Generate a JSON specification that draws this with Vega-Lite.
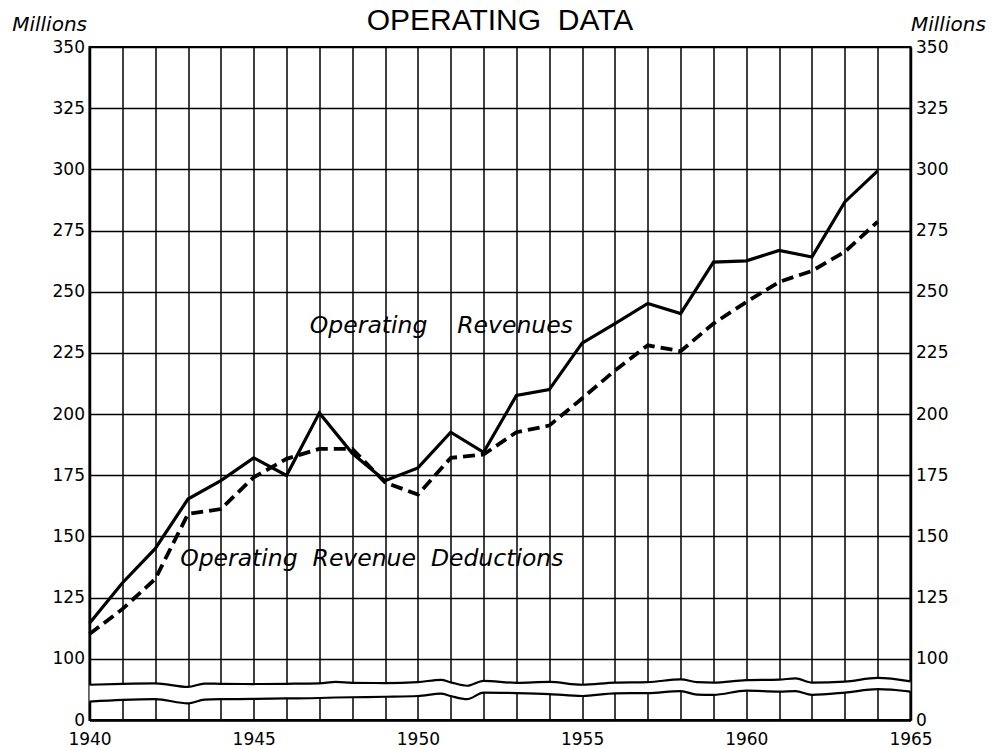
{
  "$schema": "https://vega.github.io/schema/vega-lite/v6.json",
  "width": 821,
  "height": 673,
  "autosize": {"type": "none"},
  "padding": {"left": 89.5, "top": 47, "right": 87.5, "bottom": 28},
  "background": "white",
  "title": {"text": "OPERATING\u00a0\u00a0DATA", "font": "Liberation Sans", "fontSize": 30, "fontWeight": "normal", "color": "black", "anchor": "middle", "offset": -22},
  "config": {
    "view": {"stroke": "black", "strokeWidth": 2},
    "axis": {"domainColor": "black", "gridColor": "black", "gridOpacity": 1, "labelColor": "black", "labelFont": "DejaVu Sans", "labelFontSize": 17, "ticks": false}
  },
  "datasets": {
    "series": [
      {"year": 1940, "value": 114.5, "series": "Operating Revenues"},
      {"year": 1941, "value": 131, "series": "Operating Revenues"},
      {"year": 1942, "value": 145, "series": "Operating Revenues"},
      {"year": 1943, "value": 165.3, "series": "Operating Revenues"},
      {"year": 1944, "value": 172.8, "series": "Operating Revenues"},
      {"year": 1945, "value": 182.1, "series": "Operating Revenues"},
      {"year": 1946, "value": 174.9, "series": "Operating Revenues"},
      {"year": 1947, "value": 200.5, "series": "Operating Revenues"},
      {"year": 1948, "value": 184, "series": "Operating Revenues"},
      {"year": 1949, "value": 172.8, "series": "Operating Revenues"},
      {"year": 1950, "value": 178, "series": "Operating Revenues"},
      {"year": 1951, "value": 192.6, "series": "Operating Revenues"},
      {"year": 1952, "value": 184.4, "series": "Operating Revenues"},
      {"year": 1953, "value": 207.6, "series": "Operating Revenues"},
      {"year": 1954, "value": 210, "series": "Operating Revenues"},
      {"year": 1955, "value": 229, "series": "Operating Revenues"},
      {"year": 1956, "value": 237, "series": "Operating Revenues"},
      {"year": 1957, "value": 245.2, "series": "Operating Revenues"},
      {"year": 1958, "value": 241.1, "series": "Operating Revenues"},
      {"year": 1959, "value": 262.1, "series": "Operating Revenues"},
      {"year": 1960, "value": 262.6, "series": "Operating Revenues"},
      {"year": 1961, "value": 266.9, "series": "Operating Revenues"},
      {"year": 1962, "value": 264.2, "series": "Operating Revenues"},
      {"year": 1963, "value": 286.7, "series": "Operating Revenues"},
      {"year": 1964, "value": 299.4, "series": "Operating Revenues"},
      {"year": 1940, "value": 110.1, "series": "Operating Revenue Deductions"},
      {"year": 1941, "value": 120.3, "series": "Operating Revenue Deductions"},
      {"year": 1942, "value": 132.6, "series": "Operating Revenue Deductions"},
      {"year": 1943, "value": 159.2, "series": "Operating Revenue Deductions"},
      {"year": 1944, "value": 161.2, "series": "Operating Revenue Deductions"},
      {"year": 1945, "value": 174.2, "series": "Operating Revenue Deductions"},
      {"year": 1946, "value": 181.7, "series": "Operating Revenue Deductions"},
      {"year": 1947, "value": 185.8, "series": "Operating Revenue Deductions"},
      {"year": 1948, "value": 185.8, "series": "Operating Revenue Deductions"},
      {"year": 1949, "value": 172.1, "series": "Operating Revenue Deductions"},
      {"year": 1950, "value": 167.1, "series": "Operating Revenue Deductions"},
      {"year": 1951, "value": 182.1, "series": "Operating Revenue Deductions"},
      {"year": 1952, "value": 183.5, "series": "Operating Revenue Deductions"},
      {"year": 1953, "value": 192.6, "series": "Operating Revenue Deductions"},
      {"year": 1954, "value": 195.3, "series": "Operating Revenue Deductions"},
      {"year": 1955, "value": 206.4, "series": "Operating Revenue Deductions"},
      {"year": 1956, "value": 217.8, "series": "Operating Revenue Deductions"},
      {"year": 1957, "value": 228.1, "series": "Operating Revenue Deductions"},
      {"year": 1958, "value": 225.7, "series": "Operating Revenue Deductions"},
      {"year": 1959, "value": 237, "series": "Operating Revenue Deductions"},
      {"year": 1960, "value": 245.8, "series": "Operating Revenue Deductions"},
      {"year": 1961, "value": 254, "series": "Operating Revenue Deductions"},
      {"year": 1962, "value": 258.5, "series": "Operating Revenue Deductions"},
      {"year": 1963, "value": 266.3, "series": "Operating Revenue Deductions"},
      {"year": 1964, "value": 278.6, "series": "Operating Revenue Deductions"}
    ],
    "breakband": [
      {"year": 1940, "upper": 89.4, "lower": 82.5},
      {"year": 1941, "upper": 89.8, "lower": 83.2},
      {"year": 1942, "upper": 90.0, "lower": 83.5},
      {"year": 1943, "upper": 88.5, "lower": 81.8},
      {"year": 1943.5, "upper": 89.9, "lower": 83.3},
      {"year": 1944, "upper": 89.8, "lower": 83.5},
      {"year": 1945, "upper": 89.7, "lower": 83.6},
      {"year": 1946, "upper": 89.8, "lower": 83.8},
      {"year": 1947, "upper": 90.0, "lower": 84.0},
      {"year": 1947.5, "upper": 90.6, "lower": 84.2},
      {"year": 1948, "upper": 90.2, "lower": 84.3},
      {"year": 1949, "upper": 90.1, "lower": 84.5},
      {"year": 1950, "upper": 90.5, "lower": 84.8},
      {"year": 1950.7, "upper": 91.4, "lower": 85.8},
      {"year": 1951, "upper": 90.4, "lower": 84.8},
      {"year": 1951.5, "upper": 89.0, "lower": 83.5},
      {"year": 1952, "upper": 91.0, "lower": 86.2},
      {"year": 1953, "upper": 90.2, "lower": 86.0},
      {"year": 1954, "upper": 90.6, "lower": 85.6},
      {"year": 1955, "upper": 89.4, "lower": 84.8},
      {"year": 1956, "upper": 90.3, "lower": 85.9},
      {"year": 1957, "upper": 90.5, "lower": 86.0},
      {"year": 1958, "upper": 91.6, "lower": 86.8},
      {"year": 1958.5, "upper": 90.5, "lower": 85.4},
      {"year": 1959, "upper": 90.3, "lower": 85.3},
      {"year": 1960, "upper": 91.3, "lower": 87.0},
      {"year": 1961, "upper": 91.5, "lower": 86.6},
      {"year": 1961.5, "upper": 92.0, "lower": 86.8},
      {"year": 1962, "upper": 90.3, "lower": 85.3},
      {"year": 1963, "upper": 90.7, "lower": 86.2},
      {"year": 1964, "upper": 92.2, "lower": 87.6},
      {"year": 1965, "upper": 90.8, "lower": 86.6}
    ],
    "labels": [
      {"year": 1946.71, "value": 233.0, "text": "Operating\u00a0\u00a0\u00a0\u00a0Revenues"},
      {"year": 1942.76, "value": 138.0, "text": "Operating\u00a0\u00a0Revenue\u00a0\u00a0Deductions"}
    ]
  },
  "encoding": {
    "x": {"field": "year", "type": "quantitative", "scale": {"domain": [1940, 1965], "nice": false, "zero": false},
      "axis": {"values": [1940,1941,1942,1943,1944,1945,1946,1947,1948,1949,1950,1951,1952,1953,1954,1955,1956,1957,1958,1959,1960,1961,1962,1963,1964,1965],
        "tickCount": 40, "labelExpr": "datum.value % 5 == 0 ? format(datum.value, 'd') : ''", "labelOverlap": false, "title": null, "grid": true, "gridWidth": 1.5, "domainWidth": 2.5, "labelPadding": 11, "labelFlush": false}}
  },
  "layer": [
    {
      "data": {"name": "breakband"},
      "mark": {"type": "area", "color": "white", "interpolate": "monotone", "opacity": 1},
      "encoding": {
        "y": {"field": "upper", "type": "quantitative", "scale": {"domain": [75, 350], "nice": false, "zero": false},
          "axis": {"values": [75,100,125,150,175,200,225,250,275,300,325,350], "tickCount": 30, "labelExpr": "datum.value == 75 ? '0' : format(datum.value, 'd')", "labelOverlap": false,
            "title": "Millions", "titleAngle": 0, "titleAlign": "right", "titleBaseline": "alphabetic", "titleX": -3, "titleY": -17,
            "titleFont": "DejaVu Sans", "titleFontStyle": "italic", "titleFontWeight": "normal", "titleFontSize": 20, "titleColor": "black",
            "grid": true, "gridWidth": 1.5, "domainWidth": 2.5, "labelPadding": 5}},
        "y2": {"field": "lower"}
      }
    },
    {
      "data": {"name": "breakband"},
      "mark": {"type": "line", "color": "black", "strokeWidth": 2.2, "interpolate": "monotone"},
      "encoding": {
        "y": {"field": "upper", "type": "quantitative", "axis": null}
      }
    },
    {
      "data": {"name": "breakband"},
      "mark": {"type": "line", "color": "black", "strokeWidth": 2.2, "interpolate": "monotone"},
      "encoding": {
        "y": {"field": "lower", "type": "quantitative", "axis": null}
      }
    },
    {
      "data": {"name": "series"},
      "transform": [{"filter": "datum.series == 'Operating Revenues'"}],
      "mark": {"type": "line", "color": "black", "strokeWidth": 3.2},
      "encoding": {
        "y": {"field": "value", "type": "quantitative", "axis": null}
      }
    },
    {
      "data": {"name": "series"},
      "transform": [{"filter": "datum.series == 'Operating Revenue Deductions'"}],
      "mark": {"type": "line", "color": "black", "strokeWidth": 3.8, "strokeDash": [12, 6]},
      "encoding": {
        "y": {"field": "value", "type": "quantitative", "axis": null}
      }
    },
    {
      "data": {"name": "labels"},
      "mark": {"type": "text", "font": "DejaVu Sans", "fontStyle": "italic", "fontSize": 23.5, "align": "left", "baseline": "alphabetic", "color": "black"},
      "encoding": {
        "y": {"field": "value", "type": "quantitative", "axis": null},
        "text": {"field": "text"}
      }
    },
    {
      "data": {"name": "series"},
      "mark": {"type": "tick", "opacity": 0},
      "encoding": {
        "y": {"field": "value", "type": "quantitative", "scale": {"domain": [75, 350], "nice": false, "zero": false},
          "axis": {"orient": "right", "values": [75,100,125,150,175,200,225,250,275,300,325,350], "tickCount": 30, "labelExpr": "datum.value == 75 ? '0' : format(datum.value, 'd')", "labelOverlap": false,
            "title": "Millions", "titleAngle": 0, "titleAlign": "left", "titleBaseline": "alphabetic", "titleX": 0, "titleY": -17,
            "titleFont": "DejaVu Sans", "titleFontStyle": "italic", "titleFontWeight": "normal", "titleFontSize": 20, "titleColor": "black",
            "grid": false, "domainWidth": 2.5, "labelPadding": 5}}
      }
    }
  ],
  "resolve": {"scale": {"y": "shared"}, "axis": {"y": "independent"}}
}
